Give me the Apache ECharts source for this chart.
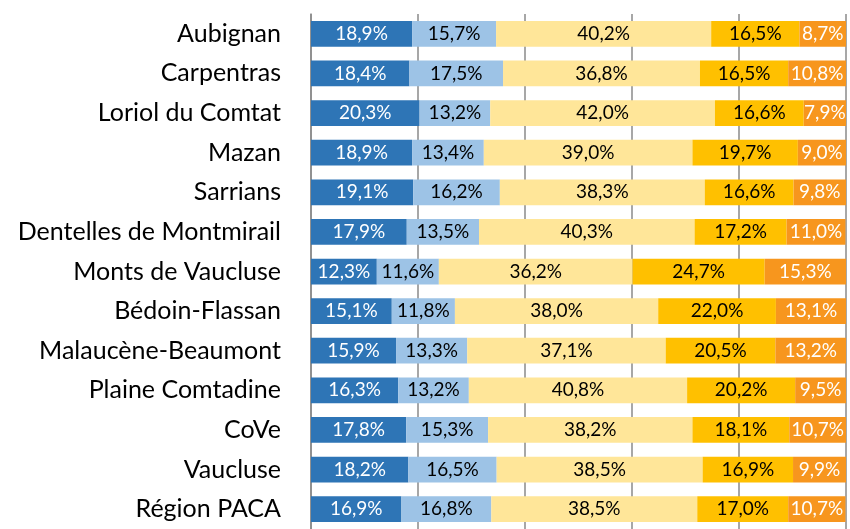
<!DOCTYPE html>
<html lang="fr">
<head>
	<meta charset="UTF-8">
	<title>Répartition par territoire</title>
	<script src="https://cdn.jsdelivr.net/npm/echarts@6/dist/echarts.min.js"></script>
	<style>
		html, body { margin: 0; padding: 0; background: #fff; }
		#chart { width: 850px; height: 529px; }
	</style>
</head>
<body>
	<div id="chart"></div>
	<script>
		// territoires, de haut en bas
		var categories = ['Aubignan', 'Carpentras', 'Loriol du Comtat', 'Mazan', 'Sarrians',
			'Dentelles de Montmirail', 'Monts de Vaucluse', 'Bédoin-Flassan', 'Malaucène-Beaumont',
			'Plaine Comtadine', 'CoVe', 'Vaucluse', 'Région PACA'];

		// parts en %
		var s1 = [18.9, 18.4, 20.3, 18.9, 19.1, 17.9, 12.3, 15.1, 15.9, 16.3, 17.8, 18.2, 16.9];
		var s2 = [15.7, 17.5, 13.2, 13.4, 16.2, 13.5, 11.6, 11.8, 13.3, 13.2, 15.3, 16.5, 16.8];
		var s3 = [40.2, 36.8, 42.0, 39.0, 38.3, 40.3, 36.2, 38.0, 37.1, 40.8, 38.2, 38.5, 38.5];
		var s4 = [16.5, 16.5, 16.6, 19.7, 16.6, 17.2, 24.7, 22.0, 20.5, 20.2, 18.1, 16.9, 17.0];
		var s5 = [8.7, 10.8, 7.9, 9.0, 9.8, 11.0, 15.3, 13.1, 13.2, 9.5, 10.7, 9.9, 10.7];

		var colors = ['#2E75B6', '#9DC3E6', '#FFE699', '#FFC000', '#F7961E'];
		var textColors = ['#fff', '#000', '#000', '#000', '#fff'];
		var FONT = 'Lato, "Open Sans", sans-serif';

		function makeSerie(data, i) {
			return {
				type: 'bar',
				stack: 'total',
				data: data,
				barCategoryGap: '35%',
				itemStyle: { color: colors[i] },
				label: {
					show: true,
					position: 'inside',
					color: textColors[i],
					fontFamily: FONT,
					fontSize: 19,
					formatter: function (p) {
						return p.value.toFixed(1).replace('.', ',') + '%';
					}
				}
			};
		}

		var chart = echarts.init(document.getElementById('chart'));
		chart.setOption({
			animation: false,
			grid: { left: 311, right: 4, top: 14, height: 520 },
			xAxis: {
				type: 'value',
				min: 0,
				max: 100,
				interval: 20,
				axisLabel: { show: false },
				axisLine: { show: false },
				axisTick: { show: false },
				splitLine: { lineStyle: { color: '#8a8a8a', width: 1.5 } }
			},
			yAxis: {
				type: 'category',
				inverse: true,
				data: categories,
				axisLine: { lineStyle: { color: '#8a8a8a', width: 1.5 } },
				axisTick: { length: 9, lineStyle: { color: '#8a8a8a', width: 1.5 } },
				axisLabel: { color: '#000', fontFamily: FONT, fontSize: 25, margin: 30 }
			},
			series: [s1, s2, s3, s4, s5].map(makeSerie)
		});
	</script>
</body>
</html>
